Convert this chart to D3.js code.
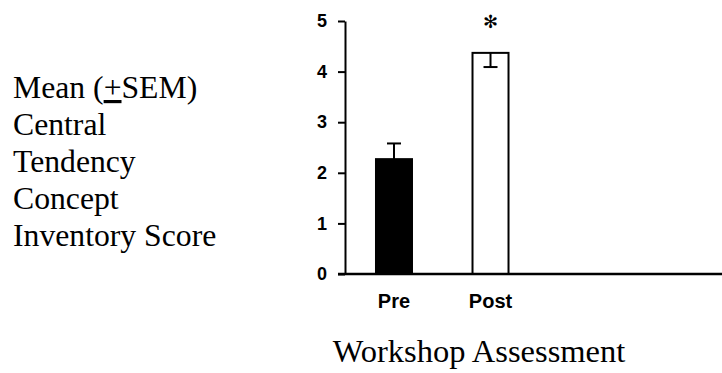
<!DOCTYPE html>
<head>
  <style>
    body { margin: 0; background: #fff; }
    svg { display: block; }
  </style>
<title>Workshop Assessment</title>
</head>

<body>

  <script src="https://cdn.jsdelivr.net/npm/d3@7/dist/d3.min.js"></script>

  <script>
    // data
    const categories = ["Pre", "Post"];
    const means = [2.27, 4.37];
    const sems = [0.31, 0.28];
    const errDir = [1, -1];          // Pre error bar goes up, Post goes down into the bar
    const yTicks = [0, 1, 2, 3, 4, 5];
    const yLabelLines = ["Mean (", "Central", "Tendency", "Concept", "Inventory Score"];
    const xTitle = "Workshop Assessment";

    const W = 722, H = 373;

    // scales
    const y = d3.scaleLinear().domain([0, 5]).range([274, 21]);
    const x = d3.scaleBand().domain(categories)
      .range([345, 539.5])
      .paddingInner(0.627)
      .paddingOuter(0.321);

    var svg = d3.select("body").append("svg")
      .attr("width", W)
      .attr("height", H);

    // bars
    svg.selectAll("rect.bar")
      .data(categories)
      .enter().append("rect")
      .attr("class", "bar")
      .attr("x", function(d){return x(d);})
      .attr("width", x.bandwidth())
      .attr("y", function(d,i){return y(means[i]);})
      .attr("height", function(d,i){return y(0) - y(means[i]);})
      .attr("fill", function(d,i){return i == 0 ? "#000" : "#fff";})
      .attr("stroke", "#000")
      .attr("stroke-width", 2);

    // error bars (one sided)
    var err = svg.selectAll("g.err")
      .data(categories)
      .enter().append("g")
      .attr("class", "err")
      .attr("stroke", "#000")
      .attr("stroke-width", 2);

    err.append("line")
      .attr("x1", function(d){return x(d) + x.bandwidth()/2;})
      .attr("x2", function(d){return x(d) + x.bandwidth()/2;})
      .attr("y1", function(d,i){return y(means[i]);})
      .attr("y2", function(d,i){return y(means[i] + errDir[i]*sems[i]);});

    err.append("line")
      .attr("x1", function(d){return x(d) + x.bandwidth()/2 - 7;})
      .attr("x2", function(d){return x(d) + x.bandwidth()/2 + 7;})
      .attr("y1", function(d,i){return y(means[i] + errDir[i]*sems[i]);})
      .attr("y2", function(d,i){return y(means[i] + errDir[i]*sems[i]);});

    // significance star over Post
    svg.append("text")
      .attr("x", x("Post") + x.bandwidth()/2)
      .attr("y", 28)
      .attr("text-anchor", "middle")
      .style("font-family", "'DejaVu Sans', sans-serif")
      .style("font-size", "18px")
      .text("\u273B");

    // Y axis
    var yAxis = svg.append("g")
      .attr("transform", "translate(345,0)")
      .call(d3.axisLeft(y).tickValues(yTicks).tickFormat(d3.format("d"))
        .tickSize(7).tickSizeOuter(0).tickPadding(11));
    yAxis.select(".domain").attr("stroke-width", 2);
    yAxis.selectAll(".tick line").attr("stroke-width", 2);
    yAxis.selectAll(".tick text")
      .style("font-family", "'Liberation Sans', Arial, sans-serif")
      .style("font-weight", "bold")
      .style("font-size", "18px")
      .attr("fill", "#000");

    // X axis baseline (runs to the right edge)
    svg.append("line")
      .attr("x1", 338)
      .attr("x2", W)
      .attr("y1", y(0))
      .attr("y2", y(0))
      .attr("stroke", "#000")
      .attr("stroke-width", 2.5);

    // category labels
    var xAxis = svg.append("g")
      .attr("transform", "translate(0," + y(0) + ")")
      .call(d3.axisBottom(x).tickSize(0).tickPadding(20));
    xAxis.select(".domain").remove();
    xAxis.selectAll(".tick text")
      .style("font-family", "'Liberation Sans', Arial, sans-serif")
      .style("font-weight", "bold")
      .style("font-size", "20px")
      .attr("fill", "#000");

    // left side label, stacked lines
    var lab = svg.append("text")
      .style("font-family", "'Liberation Serif', 'Times New Roman', serif")
      .style("font-size", "31.7px")
      .attr("fill", "#000");
    yLabelLines.forEach(function(t, i) {
      lab.append("tspan")
        .attr("x", 13)
        .attr("y", 98 + i*37)
        .text(t);
      if (i == 0) {
        lab.append("tspan").style("text-decoration", "underline").text("+");
        lab.append("tspan").text("SEM)");
      }
    });

    // x title
    svg.append("text")
      .attr("x", 479)
      .attr("y", 362)
      .attr("text-anchor", "middle")
      .style("font-family", "'Liberation Serif', 'Times New Roman', serif")
      .style("font-size", "32.5px")
      .text(xTitle);

  </script>

</body>
